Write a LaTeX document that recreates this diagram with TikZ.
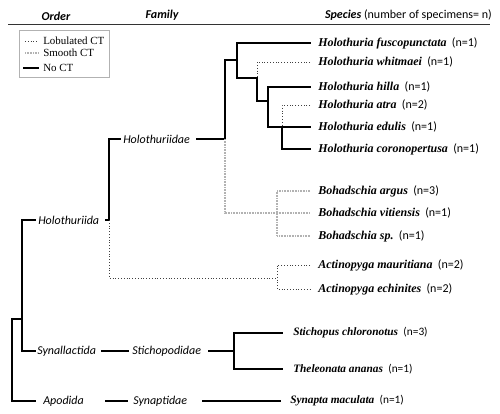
\documentclass[tikz,border=0pt]{standalone}
\usepackage{fontspec}
\setmainfont{Liberation Serif}
\newfontfamily\calib{Carlito}
\usetikzlibrary{calc}

\tikzset{
  nct/.style={line width=1.1pt, line cap=rect},
  lct/.style={line width=0.7pt, black!75, dash pattern=on 0.6pt off 1.5pt},
  sct/.style={line width=1pt, gray!60, dash pattern=on 0.6pt off 0.6pt},
  spc/.style={anchor=west, inner sep=0pt, font=\fontsize{9}{11}\selectfont\bfseries\itshape},
  spclow/.style={spc, font=\fontsize{8.5}{10}\selectfont\bfseries\itshape},
  taxon/.style={anchor=west, inner sep=0pt, font=\calib\fontsize{9}{11}\selectfont\itshape},
  hdr/.style={inner sep=0pt, font=\calib\fontsize{9}{11}\selectfont\bfseries\itshape},
  leg/.style={anchor=west, inner sep=0pt, font=\fontsize{8.2}{10}\selectfont},
}
\newcommand{\nspec}[1]{\hspace{4pt}{\calib\mdseries\upshape (n=#1)}}

\begin{document}
\begin{tikzpicture}[x=0.75pt, y=-0.75pt]
  \useasboundingbox (0,0) rectangle (500,414);

  % en-tete
  \node[hdr] (order) at (56,16) {Order};
  \node[hdr] (family) at (162,15) {Family};
  \node[hdr, anchor=east] (species) at (492,15) {Species\mdseries\upshape\ (number of specimens= n)};
  \draw[line width=0.6pt, black!80] (8,24) -- (490,24);

  % legende
  \draw[gray!60, line width=0.6pt] (19,30) rectangle (109,77);
  \node[leg] (leglob) at (43,41) {Lobulated CT};
  \node[leg] (legsmo) at (43,53) {Smooth CT};
  \node[leg] (legno) at (43,68) {No CT};
  \draw[lct] ($(leglob.west)+(-18,0)$) -- ++(13,0);
  \draw[sct] ($(legsmo.west)+(-18,0)$) -- ++(13,0);
  \draw[nct] ($(legno.west)+(-19,0)$) -- ++(14,0);

  % ordres et familles
  \node[taxon] (holothuriida) at (38,220) {Holothuriida};
  \node[taxon] (synallactida) at (37,351) {Synallactida};
  \node[taxon] (apodida) at (43,401) {Apodida};
  \node[taxon] (holothuriidae) at (123,139) {Holothuriidae};
  \node[taxon] (stichopodidae) at (132,351) {Stichopodidae};
  \node[taxon] (synaptidae) at (133,401) {Synaptidae};

  % especes
  \node[spc] (fusc) at (318,43) {Holothuria fuscopunctata\nspec{1}};
  \node[spc] (whit) at (318,62) {Holothuria whitmaei\nspec{1}};
  \node[spc] (hilla) at (318,87) {Holothuria hilla\nspec{1}};
  \node[spc] (atra) at (318,105) {Holothuria atra\nspec{2}};
  \node[spc] (edulis) at (318,127) {Holothuria edulis\nspec{1}};
  \node[spc] (coron) at (318,149) {Holothuria coronopertusa\nspec{1}};
  \node[spc] (argus) at (318,191) {Bohadschia argus\nspec{3}};
  \node[spc] (viti) at (318,213) {Bohadschia vitiensis\nspec{1}};
  \node[spc] (bsp) at (318,236) {Bohadschia sp.\nspec{1}};
  \node[spc] (maur) at (318,265) {Actinopyga mauritiana\nspec{2}};
  \node[spc] (echi) at (318,289) {Actinopyga echinites\nspec{2}};
  \node[spclow] (stich) at (293,333) {Stichopus chloronotus\nspec{3}};
  \node[spclow] (thel) at (293,369) {Theleonata ananas\nspec{1}};
  \node[spclow] (synapta) at (290,401) {Synapta maculata\nspec{1}};

  % noeuds de l'arbre
  \coordinate (root) at (12,319);
  \coordinate (jord) at (22,319);
  \coordinate (jhol) at (109,220);
  \coordinate (jhdae) at (225,139);
  \coordinate (jAm) at (237,60);
  \coordinate (jA) at (237,78);
  \coordinate (jB) at (257,78);
  \coordinate (jC) at (268,101);
  \coordinate (jD) at (282,127);
  \coordinate (jboh) at (277,213);
  \coordinate (jact) at (277,278);
  \coordinate (jsti) at (234,351);

  % branches
  \draw[nct] (root) -- (jord);
  \draw[nct] (jord) |- ($(holothuriida.west)+(-3,0)$);
  \draw[nct] (jord) |- ($(synallactida.west)+(-2,0)$);
  \draw[nct] (root) |- ($(apodida.west)+(-8,0)$);

  \draw[nct] (jhol) -- ++(-3,0);
  \draw[nct] (jhol) |- ($(holothuriidae.west)+(-3,0)$);
  \draw[lct] (jhol) |- (jact);
  \draw[nct] ($(holothuriidae.east)+(7,0)$) -- (jhdae) |- (jAm);
  \draw[sct] (jhdae) |- (jboh);

  \draw[nct] ($(fusc.west)+(-8,0)$) -| (jA) -- (jB);
  \draw[lct] ($(whit.west)+(-8,0)$) -| (jB);
  \draw[nct] (jB) |- (jC);
  \draw[nct] ($(hilla.west)+(-8,0)$) -| (jC) |- ($(edulis.west)+(-8,0)$);
  \draw[lct] ($(atra.west)+(-8,0)$) -| (jD);
  \draw[nct] (jD) |- ($(coron.west)+(-8,0)$);

  \draw[sct] ($(argus.west)+(-8,0)$) -| (jboh) |- ($(bsp.west)+(-8,0)$);
  \draw[sct] (jboh) -- ($(viti.west)+(-8,0)$);
  \draw[lct] ($(maur.west)+(-8,0)$) -| (jact) |- ($(echi.west)+(-8,0)$);

  \draw[nct, shorten <=4.5pt, shorten >=2.5pt] (synallactida.east) -- (stichopodidae.west);
  \draw[nct] ($(stichopodidae.east)+(7,0)$) -- (jsti);
  \draw[nct] ($(stich.west)+(-11,0)$) -| (jsti) |- ($(thel.west)+(-11,0)$);
  \draw[nct] ($(apodida.east)+(22,0)$) -- ($(synaptidae.west)+(-6,0)$);
  \draw[nct] ($(synaptidae.east)+(15,0)$) -- ($(synapta.west)+(-10,0)$);
\end{tikzpicture}
\end{document}
